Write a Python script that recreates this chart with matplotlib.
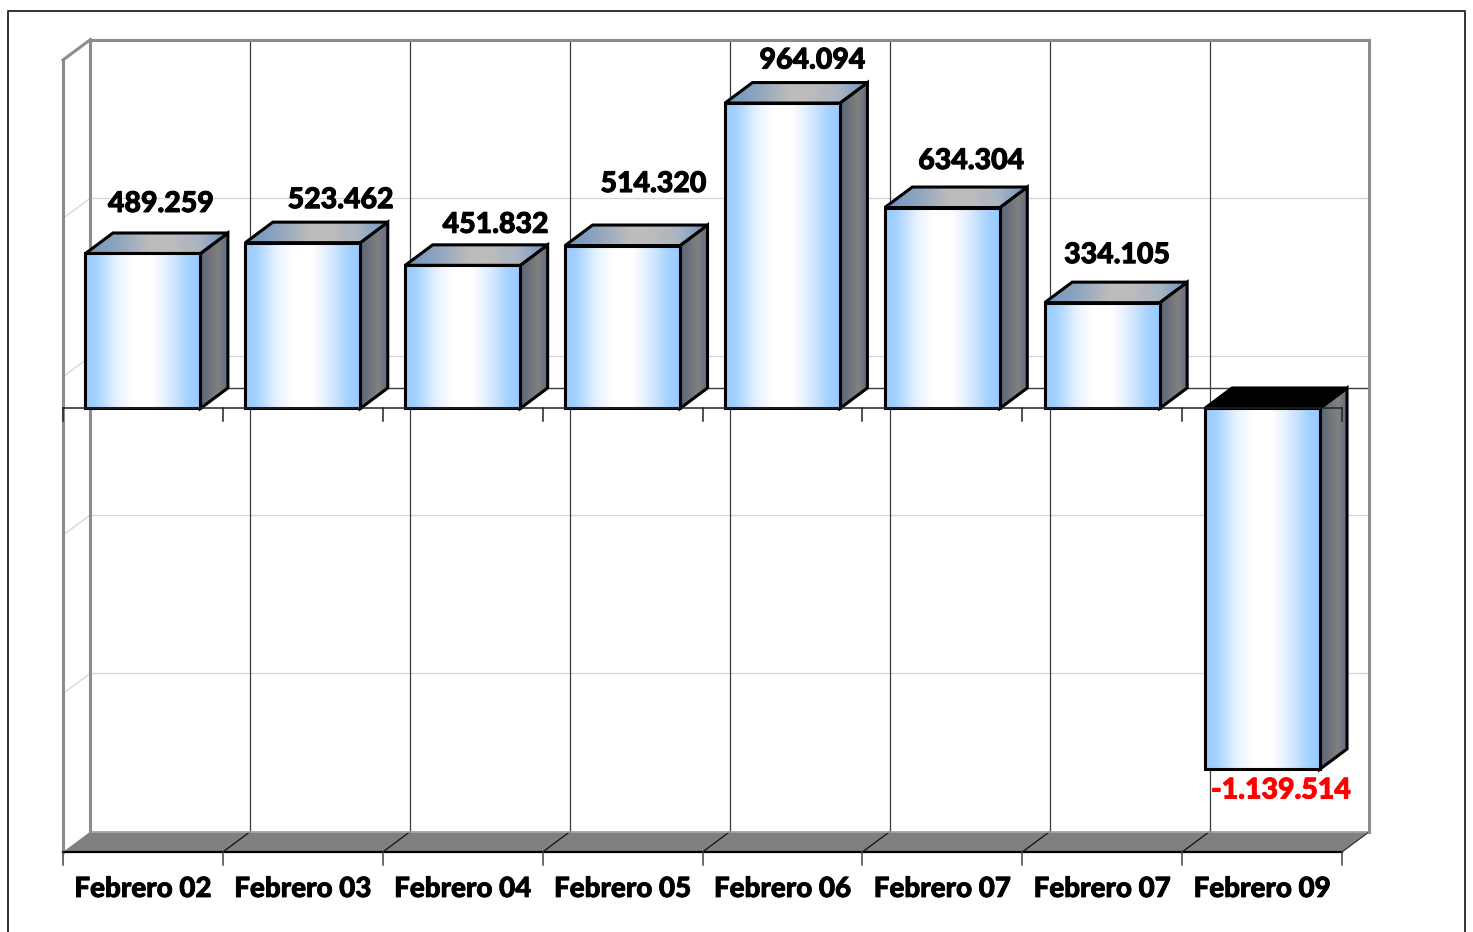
import numpy as np
import matplotlib
matplotlib.use("Agg")
import matplotlib.pyplot as plt
import matplotlib.patheffects as pe
from matplotlib.colors import LinearSegmentedColormap
from matplotlib.lines import Line2D
from matplotlib.patches import Polygon

categories = ["Febrero 02", "Febrero 03", "Febrero 04", "Febrero 05",
              "Febrero 06", "Febrero 07", "Febrero 07", "Febrero 09"]
values = [489259, 523462, 451832, 514320, 964094, 634304, 334105, -1139514]
value_labels = ["489.259", "523.462", "451.832", "514.320",
                "964.094", "634.304", "334.105", "-1.139.514"]
y_ticks = [-1400000, -900000, -400000, 100000, 600000, 1100000]

# label placement relative to the bar (pixels)
label_dx = [18, 38, 33, 31, 30, 29, 15, 19]
label_dy = [29, 22, 20, 41, 22, 26, 27, -21]

W, H = 1473, 932
fig = plt.figure(figsize=(W / 100, H / 100), dpi=100)
ax = fig.add_axes([63 / W, 1 - 852 / H, 1279 / W, 792 / H])
n = len(values)
ymin, ymax = y_ticks[0], y_ticks[-1]
ax.set_xlim(0, n)
ax.set_ylim(ymin, ymax)
ax.axis("off")

dx = 27.5 / 159.9
dy = 20.5 * (ymax - ymin) / 792
bw = 0.719
font = "Lato"

WALL = "#8c8c8c"
GRID = "#d4d4d4"
DARK = "#3c3c3c"

# floor
ax.add_patch(Polygon([(0, ymin), (dx, ymin + dy), (n + dx, ymin + dy), (n, ymin)],
                     fc="#808080", ec="none", zorder=1, clip_on=False))

# horizontal gridlines on back and side walls
for t in y_ticks[1:-1]:
    ax.plot([dx, n + dx], [t + dy] * 2, color=GRID, lw=0.9, zorder=1.5, clip_on=False)
    ax.plot([0, dx], [t, t + dy], color=GRID, lw=0.9, zorder=1.5, clip_on=False)

# vertical gridlines & floor separators
for i in range(1, n):
    ax.plot([i + dx, i + dx], [ymin + dy, ymax + dy], color=DARK, lw=0.9, zorder=1.6, clip_on=False)
    ax.plot([i, i + dx], [ymin, ymin + dy], color="#111111", lw=0.9, zorder=1.6, clip_on=False)

# walls
wall_kw = dict(color=WALL, lw=2.2, zorder=2, clip_on=False, solid_capstyle="projecting")
ax.plot([dx, dx], [ymin + dy, ymax + dy], **wall_kw)
ax.plot([n + dx, n + dx], [ymin + dy, ymax + dy], **wall_kw)
ax.plot([dx, n + dx], [ymax + dy, ymax + dy], **wall_kw)
ax.plot([0, 0], [ymin, ymax], **wall_kw)
ax.plot([0, dx], [ymax, ymax + dy], **wall_kw)
ax.plot([dx, n + dx], [ymin + dy, ymin + dy], color="#a8a8a8", lw=1.2, zorder=1.7, clip_on=False)
ax.plot([n, n + dx], [ymin, ymin + dy], color="#333333", lw=0.9, zorder=1.7, clip_on=False)

# zero plane back line
ax.plot([dx, n + dx], [dy, dy], color=DARK, lw=1.0, zorder=1.8, clip_on=False)

cm_front = LinearSegmentedColormap.from_list(
    "front", [(0, "#99ccff"), (0.08, "#a0cfff"), (0.28, "#e8f3ff"), (0.42, "#ffffff"),
              (0.58, "#ffffff"), (0.72, "#e0eeff"), (0.92, "#a0cfff"), (1, "#99ccff")])
cm_top = LinearSegmentedColormap.from_list(
    "top", [(0, "#6c93c2"), (0.25, "#93a7be"), (0.45, "#bcbcbc"), (0.6, "#bcbcbc"), (0.8, "#a9b4c2"), (1, "#6c93c2")])
cm_side = LinearSegmentedColormap.from_list(
    "side", [(0, "#55657c"), (0.35, "#6f747c"), (0.65, "#808080"), (1, "#5b6a80")])
grad = np.linspace(0, 1, 256).reshape(1, -1)
EDGE = dict(ec="black", lw=2.2, joinstyle="miter", fill=False, clip_on=False)


def shaded(poly, cmap, z):
    xs, ys = zip(*poly)
    im = ax.imshow(grad, cmap=cmap, aspect="auto", interpolation="bilinear",
                   extent=(min(xs), max(xs), min(ys), max(ys)), zorder=z)
    clip = Polygon(poly, transform=ax.transData, fc="none", ec="none", clip_on=False)
    ax.add_patch(clip)
    im.set_clip_box(fig.bbox)
    im.set_clip_path(clip)
    ax.add_patch(Polygon(poly, zorder=z + 0.01, **EDGE))


for i, v in enumerate(values):
    x0 = i + (1 - bw) / 2
    x1 = x0 + bw
    lo, hi = min(v, 0), max(v, 0)
    z = 3 + i * 0.1
    side = [(x1, lo), (x1 + dx, lo + dy), (x1 + dx, hi + dy), (x1, hi)]
    top = [(x0, hi), (x0 + dx, hi + dy), (x1 + dx, hi + dy), (x1, hi)]
    front = [(x0, lo), (x1, lo), (x1, hi), (x0, hi)]
    shaded(side, cm_side, z)
    if v < 0:
        ax.add_patch(Polygon(top, fc="black", ec="black", lw=2.2, zorder=z + 0.02, clip_on=False))
    else:
        shaded(top, cm_top, z + 0.02)
    shaded(front, cm_front, z + 0.04)
    col = "red" if v < 0 else "black"
    ax.annotate(value_labels[i], (i + 0.5, v + dy if v > 0 else v),
                xytext=(label_dx[i] * 0.72, label_dy[i] * 0.72), textcoords="offset points",
                ha="center", va="center", fontsize=20.5, fontweight="black", family=font,
                color=col, zorder=10,
                path_effects=[pe.withStroke(linewidth=0.7, foreground=col)])

# front axis lines and ticks
ax_kw = dict(color="#222222", lw=1.1, zorder=6, clip_on=False)
tick_len = 13 * (ymax - ymin) / 792
ax.plot([0, n], [0, 0], **ax_kw)
ax.plot([0, n], [ymin, ymin], color="black", lw=1.6, zorder=6, clip_on=False)
for i in range(n + 1):
    ax.plot([i, i], [0, -tick_len], **ax_kw)
    ax.plot([i, i], [ymin, ymin - tick_len], color="#444444", lw=1.1, zorder=6, clip_on=False)

# category labels
for i, c in enumerate(categories):
    ax.annotate(c, (i + 0.5, ymin), xytext=(0, -37 * 0.72), textcoords="offset points",
                ha="center", va="center", fontsize=20, fontweight="black", family=font, color="black",
                path_effects=[pe.withStroke(linewidth=0.6, foreground="black")])

# outer frame
fx = [8 / W, 8 / W, 1465 / W, 1465 / W]
fy = [0, 1 - 11 / H, 1 - 11 / H, 0]
fig.add_artist(Line2D(fx, fy, transform=fig.transFigure, color="#333333", lw=1.4))

ax.set_xlim(0, n)
ax.set_ylim(ymin, ymax)
fig.savefig("out.png", dpi=100, facecolor="white")
